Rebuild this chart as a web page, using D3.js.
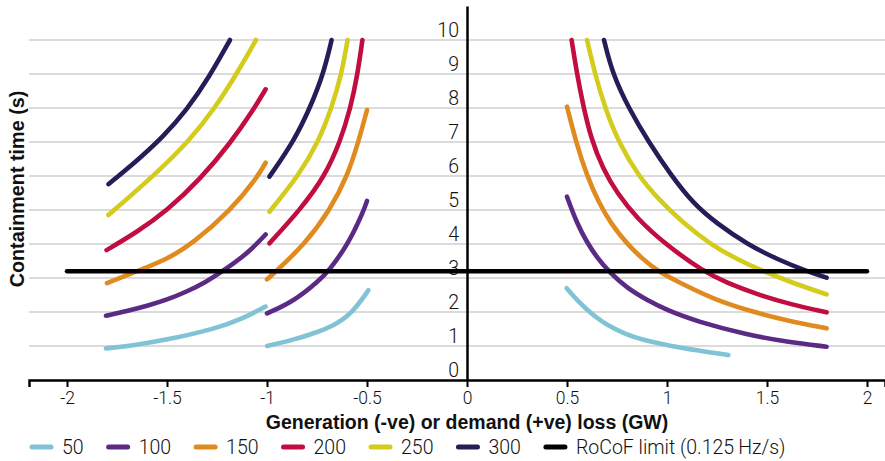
<!DOCTYPE html>
<html>
<head>
<meta charset="utf-8">
<script src="https://cdn.jsdelivr.net/npm/d3@7"></script>
<style>
  html, body { margin: 0; padding: 0; background: #fff; }
  svg { display: block; }
  .tick-label { font-family: Roboto, "Liberation Sans", sans-serif; font-weight: 300; fill: #111; }
  .title { font-family: "Liberation Sans", Arial, sans-serif; font-weight: bold; fill: #111; }
</style>
</head>
<body>
<svg id="chart" width="885" height="461"></svg>
<script>
// ---------------- data ----------------
const seriesNames = ["50", "100", "150", "200", "250", "300"];
const seriesColors = ["#7fc3d5", "#5b2a84", "#e08b1f", "#c10d40", "#d3cc1c", "#241d58"];

// each series: three segments of [loss (GW), containment time (s)]
const s50 = [
  [[-1.805,0.93],[-1.667,1.02],[-1.5,1.18],[-1.25,1.52],[-1.12,1.81],[-1.007,2.16]],
  [[-1.0,1.0],[-0.868,1.18],[-0.75,1.4],[-0.668,1.6],[-0.58,1.92],[-0.493,2.64]],
  [[0.498,2.7],[0.565,2.25],[0.632,1.9],[0.698,1.62],[0.8,1.33],[0.865,1.2],[1.065,0.94],[1.307,0.735]]
];
const s100 = [
  [[-1.805,1.89],[-1.7,2.03],[-1.6,2.18],[-1.5,2.36],[-1.4,2.6],[-1.3,2.9],[-1.235,3.15],[-1.1,3.7],[-1.007,4.28]],
  [[-1.0,1.96],[-0.868,2.3],[-0.735,2.95],[-0.693,3.2],[-0.593,4.0],[-0.515,5.0],[-0.5,5.27]],
  [[0.5,5.39],[0.55,4.6],[0.6,4.05],[0.65,3.6],[0.71,3.18],[0.8,2.7],[0.9,2.35],[1.0,2.05],[1.15,1.72],[1.4,1.33],[1.6,1.12],[1.798,0.98]]
];
const s150 = [
  [[-1.8,2.85],[-1.65,3.2],[-1.5,3.55],[-1.375,4.0],[-1.18,5.0],[-1.05,5.95],[-1.007,6.39]],
  [[-1.0,2.96],[-0.96,3.17],[-0.81,4.0],[-0.685,5.0],[-0.598,6.0],[-0.543,7.0],[-0.5,7.94]],
  [[0.5,8.04],[0.545,7.0],[0.6,6.0],[0.66,5.2],[0.72,4.6],[0.8,4.0],[0.88,3.55],[0.95,3.22],[1.05,2.9],[1.23,2.38],[1.43,2.0],[1.6,1.75],[1.798,1.52]]
];
const s200 = [
  [[-1.802,3.82],[-1.65,4.35],[-1.5,4.98],[-1.335,5.9],[-1.185,6.95],[-1.068,7.95],[-1.007,8.55]],
  [[-0.988,4.02],[-0.835,5.0],[-0.71,6.0],[-0.635,7.0],[-0.582,8.0],[-0.547,9.0],[-0.523,10.0]],
  [[0.523,10.0],[0.55,9.0],[0.58,8.1],[0.62,7.1],[0.68,6.2],[0.75,5.5],[0.85,4.75],[0.99,4.0],[1.18,3.2],[1.3,2.85],[1.45,2.52],[1.62,2.22],[1.798,1.99]]
];
const s250 = [
  [[-1.793,4.85],[-1.568,6.0],[-1.393,7.0],[-1.26,8.0],[-1.152,9.0],[-1.055,10.0]],
  [[-0.988,4.95],[-0.843,6.0],[-0.743,7.0],[-0.677,8.0],[-0.627,9.0],[-0.597,10.0]],
  [[0.6,10.0],[0.64,9.0],[0.69,8.0],[0.757,7.0],[0.857,6.0],[0.96,5.3],[1.08,4.62],[1.215,4.0],[1.35,3.55],[1.48,3.2],[1.63,2.85],[1.798,2.52]]
];
const s300 = [
  [[-1.793,5.76],[-1.65,6.45],[-1.52,7.15],[-1.4,7.95],[-1.29,8.9],[-1.185,10.0]],
  [[-0.988,5.98],[-0.868,7.0],[-0.785,8.0],[-0.718,9.0],[-0.677,10.0]],
  [[0.685,10.0],[0.728,9.0],[0.808,8.0],[0.908,7.0],[1.023,6.0],[1.13,5.2],[1.25,4.6],[1.4,4.0],[1.55,3.55],[1.7,3.2],[1.798,3.01]]
];
const allSeries = [s50, s100, s150, s200, s250, s300];

const rocofLimit = 3.2;
const rocofRange = [-2, 2];
const rocofLabel = "RoCoF limit (0.125\u2009Hz/s)";

const xTicks = [-2, -1.5, -1, -0.5, 0, 0.5, 1, 1.5, 2];
const xTickLabels = ["-2", "-1.5", "-1", "-0.5", "0", "0.5", "1", "1.5", "2"];
const yTicks = [0, 1, 2, 3, 4, 5, 6, 7, 8, 9, 10];
const xTitle = "Generation (-ve) or demand (+ve) loss (GW)";
const yTitle = "Containment time (s)";

// ---------------- drawing ----------------
const svg = d3.select("#chart");
const x = d3.scaleLinear().domain([-2.19, 2.09]).range([29, 885]);
const y = d3.scaleLinear().domain([0, 11]).range([380, 6]);

// grid
svg.append("g").selectAll("line").data(yTicks.filter(d => d > 0)).join("line")
  .attr("x1", x.range()[0]).attr("x2", x.range()[1])
  .attr("y1", d => y(d)).attr("y2", d => y(d))
  .attr("stroke", "#cfcfcf").attr("stroke-width", 1.5);

// x axis
const xAxis = d3.axisBottom(x).tickValues(xTicks).tickSize(7)
  .tickFormat((d, i) => xTickLabels[i]);
const gx = svg.append("g").attr("transform", `translate(0,${y(0)})`).call(xAxis);
gx.select(".domain").attr("stroke", "#000").attr("stroke-width", 2.5);
gx.selectAll(".tick line").attr("stroke", "#000").attr("stroke-width", 2);
gx.selectAll(".tick text").attr("class", "tick-label").attr("font-size", 17.5)
  .attr("y", 24).attr("dy", 0);

// y axis (line only, labels above grid lines)
const yAxis = d3.axisLeft(y).tickValues(yTicks).tickSize(0).tickFormat(d3.format("d"));
const gy = svg.append("g").attr("transform", `translate(${x(0)},0)`).call(yAxis);
gy.select(".domain").attr("stroke", "#000").attr("stroke-width", 2.5);
gy.selectAll(".tick text").attr("class", "tick-label").attr("font-size", 19.5)
  .attr("x", -8).attr("dy", 0).attr("y", -4);

// curves
const line = d3.line().x(d => x(d[0])).y(d => y(d[1])).curve(d3.curveBasis);
allSeries.forEach((segs, i) => {
  svg.append("g").selectAll("path").data(segs).join("path")
    .attr("d", line)
    .attr("fill", "none")
    .attr("stroke", seriesColors[i])
    .attr("stroke-width", 4.6)
    .attr("stroke-linecap", "round");
});

// RoCoF limit
svg.append("line")
  .attr("x1", x(rocofRange[0])).attr("x2", x(rocofRange[1]))
  .attr("y1", y(rocofLimit)).attr("y2", y(rocofLimit))
  .attr("stroke", "#000").attr("stroke-width", 4.5).attr("stroke-linecap", "round");

// titles
svg.append("text").attr("class", "title").attr("font-size", 19.5)
  .attr("x", x(0)).attr("y", 429).attr("text-anchor", "middle").text(xTitle);
svg.append("text").attr("class", "title").attr("font-size", 19.8)
  .attr("transform", "translate(24,189) rotate(-90)")
  .attr("text-anchor", "middle").text(yTitle);

// legend
const legendItems = seriesNames.map((n, i) => ({ label: n, color: seriesColors[i] }))
  .concat([{ label: rocofLabel, color: "#000" }]);
const lg = svg.append("g");
let cx = 29;
legendItems.forEach(item => {
  lg.append("line").attr("x1", cx + 3).attr("x2", cx + 22)
    .attr("y1", 447).attr("y2", 447)
    .attr("stroke", item.color).attr("stroke-width", 5).attr("stroke-linecap", "round");
  const t = lg.append("text").attr("class", "tick-label").attr("font-size", 19.5)
    .attr("x", cx + 33).attr("y", 454).text(item.label);
  cx += 33 + t.node().getComputedTextLength() + 22;
});
</script>
</body>
</html>
